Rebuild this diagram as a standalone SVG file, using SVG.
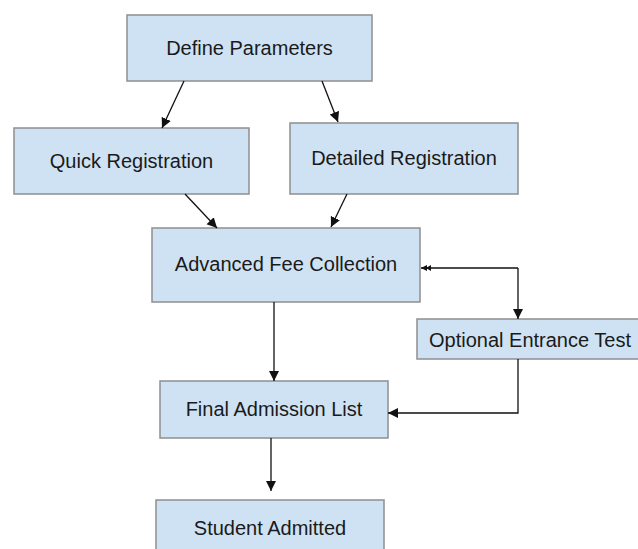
<svg xmlns="http://www.w3.org/2000/svg" width="638" height="549" viewBox="0 0 638 549">
<defs>
<style>
.box{fill:#cfe2f3;stroke:#8e8e8e;stroke-width:1.5}
.lbl{font-family:"Liberation Sans",Arial,sans-serif;font-size:20px;fill:#1a1a1a;text-anchor:middle}
.ln{fill:none;stroke:#111;stroke-width:1.3}
</style>
<marker id="ah" viewBox="0 0 10 12" refX="10" refY="6" markerWidth="10" markerHeight="12" markerUnits="userSpaceOnUse" orient="auto">
<path d="M0,1 L10,6 L0,11 z" fill="#111"/>
</marker>
<marker id="ahs" viewBox="0 0 10 6" refX="10" refY="3" markerWidth="10" markerHeight="6" markerUnits="userSpaceOnUse" orient="auto">
<path d="M0,0 L5,3 L0,6 z M4,0 L10,3 L4,6 z" fill="#111"/>
</marker>
</defs>
<rect width="638" height="549" fill="#fff"/>
<g id="define-parameters"><rect class="box" x="127" y="15" width="245" height="66"/><text class="lbl" x="249.5" y="55">Define Parameters</text></g>
<g id="quick-registration"><rect class="box" x="14" y="128" width="235" height="66"/><text class="lbl" x="131.5" y="168">Quick Registration</text></g>
<g id="detailed-registration"><rect class="box" x="290" y="123" width="228" height="71"/><text class="lbl" x="404" y="165">Detailed Registration</text></g>
<g id="advanced-fee-collection"><rect class="box" x="152" y="228" width="268" height="74"/><text class="lbl" x="286" y="271">Advanced Fee Collection</text></g>
<g id="optional-entrance-test"><rect class="box" x="417" y="319" width="227" height="40"/><text class="lbl" x="530" y="346.5">Optional Entrance Test</text></g>
<g id="final-admission-list"><rect class="box" x="160" y="381" width="228" height="57"/><text class="lbl" x="274" y="415.5">Final Admission List</text></g>
<g id="student-admitted"><rect class="box" x="156" y="500" width="228" height="60"/><text class="lbl" x="270" y="535">Student Admitted</text></g>
<g id="connectors">
<line class="ln" x1="184" y1="81" x2="162" y2="128" marker-end="url(#ah)"/>
<line class="ln" x1="322" y1="81" x2="338" y2="122" marker-end="url(#ah)"/>
<line class="ln" x1="185" y1="194" x2="217" y2="228" marker-end="url(#ah)"/>
<line class="ln" x1="347" y1="194" x2="331" y2="227" marker-end="url(#ah)"/>
<line class="ln" x1="274" y1="302" x2="274" y2="381" marker-end="url(#ah)"/>
<path class="ln" d="M518,268 H421" marker-end="url(#ahs)"/>
<path class="ln" d="M518,268 V319" marker-end="url(#ah)"/>
<path class="ln" d="M518,359 V413 H388" marker-end="url(#ah)"/>
<line class="ln" x1="271" y1="438" x2="271" y2="491" marker-end="url(#ah)"/>
</g>
</svg>
